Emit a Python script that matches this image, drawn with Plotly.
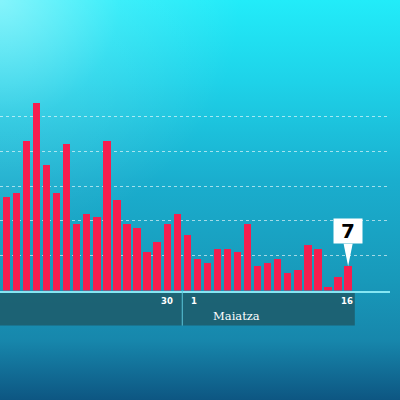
import base64
import plotly.graph_objects as go

# ---- data ----
april_days = list(range(13, 31))
may_days = list(range(1, 18))
categories = [f"Apr {d}" for d in april_days] + [f"May {d}" for d in may_days]
values = [27, 28, 43, 54, 36, 28, 42, 19, 22, 21, 43, 26, 19, 18, 11, 14, 19, 22,
          16, 9, 8, 12, 12, 11, 19, 7, 8, 9, 5, 6, 13, 12, 1, 4, 7]
grid_values = [10, 20, 30, 40, 50]
month_label = "Maiatza"
tick_labels = {"Apr 30": "30", "May 1": "1", "May 16": "16"}

bar_color = "#F61E4E"
n = len(values)
last = n - 1
x_range = [-0.635, 38.165]
y_range = [0, 83.48]
y_bottom = 0.27375

svg = '''<svg xmlns="http://www.w3.org/2000/svg" width="400" height="400" viewBox="0 0 400 400" preserveAspectRatio="none">
<defs>
<linearGradient id="v" x1="0" y1="0" x2="0" y2="1">
<stop offset="0" stop-color="#22ECF9"/>
<stop offset="0.2" stop-color="#1ED3E9"/>
<stop offset="0.45" stop-color="#1AAECE"/>
<stop offset="0.7" stop-color="#1899BA"/>
<stop offset="0.85" stop-color="#1787AC"/>
<stop offset="1" stop-color="#0D5682"/>
</linearGradient>
<radialGradient id="r" cx="0" cy="0" r="0.6">
<stop offset="0" stop-color="#FFFFFF" stop-opacity="0.45"/>
<stop offset="0.5" stop-color="#FFFFFF" stop-opacity="0.12"/>
<stop offset="1" stop-color="#FFFFFF" stop-opacity="0"/>
</radialGradient>
</defs>
<rect width="400" height="400" fill="url(#v)"/>
<rect width="400" height="400" fill="url(#r)"/>
</svg>'''
bg_src = "data:image/svg+xml;base64," + base64.b64encode(svg.encode()).decode()

fig = go.Figure()
fig.add_trace(go.Bar(
    x=categories, y=values, width=0.73,
    marker=dict(color=bar_color, line=dict(width=0)),
    hoverinfo="skip",
))

sep_x = categories.index("May 1") - 0.5
shapes = [
    # bottom band
    dict(type="rect", xref="x", yref="paper", x0=x_range[0], x1=last + 0.665,
         y0=0.186, y1=0.2705, fillcolor="#1D5E6F", opacity=0.92, line=dict(width=0),
         layer="below"),
    # month separator
    dict(type="line", xref="x", yref="paper", x0=sep_x, x1=sep_x, y0=0.186, y1=y_bottom,
         line=dict(color="#5CC6DA", width=1)),
    # callout pointer
    dict(type="path", xref="x", yref="y",
         path=f"M {last-0.45},{values[-1]+6.4} L {last+0.45},{values[-1]+6.4} L {last},{values[-1]} Z",
         fillcolor="white", line=dict(width=0)),
]

annotations = []
for cat, txt in tick_labels.items():
    i = categories.index(cat)
    if txt == "30":
        anchor, shift = "right", -2
    else:
        anchor, shift = "left", 2 if txt == "1" else 1
    annotations.append(dict(x=i, y=0.2475, xref="x", yref="paper", text=f"<b>{txt}</b>",
                            showarrow=False, xanchor=anchor, yanchor="middle", xshift=shift,
                            font=dict(family="DejaVu Sans", size=8.5, color="white")))
annotations.append(dict(x=sep_x, y=0.209, xref="x", yref="paper", text=month_label,
                        showarrow=False, xanchor="left", yanchor="middle", xshift=29,
                        font=dict(family="DejaVu Serif", size=11.5, color="white")))
annotations.append(dict(x=last, y=values[-1], xref="x", yref="y", text=str(values[-1]),
                        showarrow=False, xanchor="center", yanchor="bottom", yshift=22.5,
                        width=28, height=24, bgcolor="white", borderpad=0,
                        font=dict(family="DejaVu Sans", size=20, color="black", weight=900)))

fig.update_layout(
    width=400, height=400, margin=dict(l=0, r=0, t=0, b=0),
    paper_bgcolor="rgba(0,0,0,0)", plot_bgcolor="rgba(0,0,0,0)",
    showlegend=False, bargap=0,
    images=[dict(source=bg_src, xref="paper", yref="paper", x=0, y=1, sizex=1, sizey=1,
                 xanchor="left", yanchor="top", sizing="stretch", layer="below")],
    xaxis=dict(type="category", range=x_range, domain=[0, 0.975], showgrid=False,
               showticklabels=False, ticks="", zeroline=False,
               showline=True, linecolor="#86E6F3", linewidth=1.5),
    yaxis=dict(range=y_range, domain=[y_bottom, 1], tickvals=grid_values,
               showticklabels=False, ticks="", zeroline=False, showline=False,
               showgrid=True, gridcolor="rgba(255,255,255,0.6)", gridwidth=1, griddash="dot"),
    shapes=shapes, annotations=annotations,
)
fig.write_html("out.html", config={"displayModeBar": False},
               post_script="document.body.style.margin='0';document.body.style.overflow='hidden';")
